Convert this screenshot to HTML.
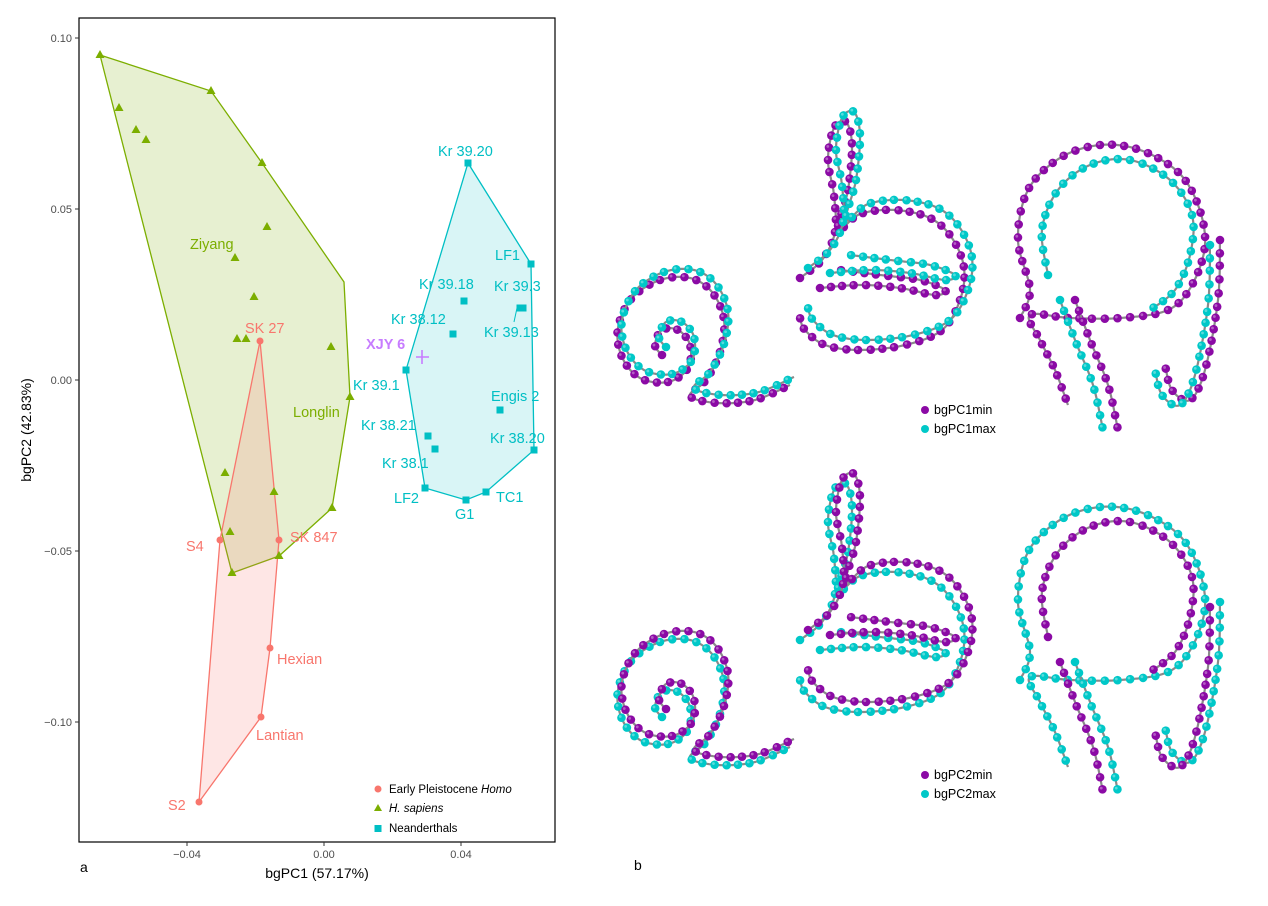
<!DOCTYPE html>
<html><head><meta charset="utf-8"><style>
body{margin:0;background:#fff;width:1268px;height:906px;overflow:hidden;font-family:"Liberation Sans",sans-serif}
svg{position:absolute;left:0;top:0}
</style></head><body>
<svg id="s" width="1268" height="906" xmlns="http://www.w3.org/2000/svg" font-family="Liberation Sans, sans-serif">
<rect x="79" y="18" width="476" height="824" fill="none" stroke="#000" stroke-width="1.2"/>
<!-- polygons -->
<polygon points="100,55 211,91 262,163 344,282 350,397 332,508 279,556 232,573" fill="#7CAE00" fill-opacity="0.18" stroke="#7CAE00" stroke-width="1.3"/>
<polygon points="260,341 279,540 270,648 261,717 199,802 220,540" fill="#F8766D" fill-opacity="0.18" stroke="#F8766D" stroke-width="1.3"/>
<polygon points="468,163 531,264 534,450 486,492 466,500 425,488 406,370" fill="#00BFC4" fill-opacity="0.15" stroke="#00BFC4" stroke-width="1.3"/>
<g id="pts"></g>
<g font-size="14.5">
<text x="190" y="249" fill="#7CAE00">Ziyang</text>
<text x="293" y="417" fill="#7CAE00">Longlin</text>
<text x="245" y="333" fill="#F8766D">SK 27</text>
<text x="186" y="551" fill="#F8766D">S4</text>
<text x="290" y="542" fill="#F8766D">SK 847</text>
<text x="277" y="664" fill="#F8766D">Hexian</text>
<text x="256" y="740" fill="#F8766D">Lantian</text>
<text x="168" y="810" fill="#F8766D">S2</text>
<text x="438" y="156" fill="#00BFC4">Kr 39.20</text>
<text x="495" y="260" fill="#00BFC4">LF1</text>
<text x="494" y="291" fill="#00BFC4">Kr 39.3</text>
<text x="419" y="289" fill="#00BFC4">Kr 39.18</text>
<text x="391" y="324" fill="#00BFC4">Kr 38.12</text>
<text x="484" y="337" fill="#00BFC4">Kr 39.13</text>
<text x="353" y="390" fill="#00BFC4">Kr 39.1</text>
<text x="491" y="401" fill="#00BFC4">Engis 2</text>
<text x="361" y="430" fill="#00BFC4">Kr 38.21</text>
<text x="490" y="443" fill="#00BFC4">Kr 38.20</text>
<text x="382" y="468" fill="#00BFC4">Kr 38.1</text>
<text x="394" y="503" fill="#00BFC4">LF2</text>
<text x="455" y="519" fill="#00BFC4">G1</text>
<text x="496" y="502" fill="#00BFC4">TC1</text>
<text x="366" y="349" fill="#C77CFF" font-weight="bold">XJY 6</text>
</g>
<path d="M416,357h13M422,350v14" stroke="#C77CFF" stroke-width="1.6"/>
<line x1="517" y1="308" x2="514" y2="322" stroke="#00BFC4"/>
<!-- axes ticks -->
<g stroke="#333"><line x1="187" y1="842" x2="187" y2="846"/><line x1="324" y1="842" x2="324" y2="846"/><line x1="461" y1="842" x2="461" y2="846"/>
<line x1="75" y1="38" x2="79" y2="38"/><line x1="75" y1="209" x2="79" y2="209"/><line x1="75" y1="380" x2="79" y2="380"/><line x1="75" y1="551" x2="79" y2="551"/><line x1="75" y1="722" x2="79" y2="722"/></g>
<g font-size="11" fill="#4d4d4d"><text x="187" y="858" text-anchor="middle">−0.04</text><text x="324" y="858" text-anchor="middle">0.00</text><text x="461" y="858" text-anchor="middle">0.04</text>
<text x="72" y="42" text-anchor="end">0.10</text><text x="72" y="213" text-anchor="end">0.05</text><text x="72" y="384" text-anchor="end">0.00</text><text x="72" y="555" text-anchor="end">−0.05</text><text x="72" y="726" text-anchor="end">−0.10</text></g>
<text x="317" y="878" font-size="14" text-anchor="middle">bgPC1 (57.17%)</text>
<text transform="translate(31,430) rotate(-90)" font-size="14" text-anchor="middle">bgPC2 (42.83%)</text>
<text x="80" y="872" font-size="14">a</text><text x="634" y="870" font-size="14">b</text>
<!-- legend -->
<g font-size="11.5"><circle cx="378" cy="789" r="3.5" fill="#F8766D"/><text x="389" y="793">Early Pleistocene <tspan font-style="italic">Homo</tspan></text>
<polygon points="378,804 382,811 374,811" fill="#7CAE00"/><text x="389" y="812" font-style="italic">H. sapiens</text>
<rect x="374.5" y="825" width="7" height="7" fill="#00BFC4"/><text x="389" y="832">Neanderthals</text></g>
<g font-size="12.5"><circle cx="925" cy="410" r="4" fill="#8B0AA5"/><text x="934" y="414">bgPC1min</text><circle cx="925" cy="429" r="4" fill="#00C8C8"/><text x="934" y="433">bgPC1max</text>
<circle cx="925" cy="775" r="4" fill="#8B0AA5"/><text x="934" y="779">bgPC2min</text><circle cx="925" cy="794" r="4" fill="#00C8C8"/><text x="934" y="798">bgPC2max</text></g>
<g id="chains"></g>
</svg>
<script>
var NS="http://www.w3.org/2000/svg";
function el(t,a,p){var e=document.createElementNS(NS,t);for(var k in a)e.setAttribute(k,a[k]);p.appendChild(e);return e;}
var P=document.getElementById("pts");
[[100,55],[119,108],[136,130],[146,140],[211,91],[262,163],[267,227],[235,258],[254,297],[237,339],[246,339],[331,347],[350,397],[274,492],[225,473],[230,532],[279,556],[232,573],[332,508]].forEach(function(p){el("polygon",{points:p[0]+","+(p[1]-5)+" "+(p[0]+4.5)+","+(p[1]+3)+" "+(p[0]-4.5)+","+(p[1]+3),fill:"#7CAE00"},P);});
[[260,341],[220,540],[279,540],[270,648],[261,717],[199,802]].forEach(function(p){el("circle",{cx:p[0],cy:p[1],r:3.5,fill:"#F8766D"},P);});
[[468,163],[531,264],[464,301],[453,334],[520,308],[523,308],[406,370],[500,410],[428,436],[435,449],[534,450],[486,492],[466,500],[425,488]].forEach(function(p){el("rect",{x:p[0]-3.5,y:p[1]-3.5,width:7,height:7,fill:"#00BFC4"},P);});
var C=document.getElementById("chains");
function cr(pts,n){var o=[];for(var i=0;i<pts.length-1;i++){var p0=pts[Math.max(0,i-1)],p1=pts[i],p2=pts[i+1],p3=pts[Math.min(pts.length-1,i+2)];for(var t=0;t<1;t+=1/n){var t2=t*t,t3=t2*t;o.push([0.5*(2*p1[0]+(-p0[0]+p2[0])*t+(2*p0[0]-5*p1[0]+4*p2[0]-p3[0])*t2+(-p0[0]+3*p1[0]-3*p2[0]+p3[0])*t3),0.5*(2*p1[1]+(-p0[1]+p2[1])*t+(2*p0[1]-5*p1[1]+4*p2[1]-p3[1])*t2+(-p0[1]+3*p1[1]-3*p2[1]+p3[1])*t3)]);}}o.push(pts[pts.length-1]);return o;}
function chain(pts,col,dx,dy,sx,sy){pts=pts.map(function(p){return[p[0]*(sx||1)+dx,p[1]*(sy||1)+dy];});var d=cr(pts,20);var s="M"+d.map(function(p){return p[0].toFixed(1)+","+p[1].toFixed(1)}).join("L");el("path",{d:s,fill:"none",stroke:"#8a8a8a","stroke-width":2.2},C);var acc=0,last=d[0];el("circle",{cx:last[0],cy:last[1],r:4.3,fill:col},C);for(var i=1;i<d.length;i++){acc+=Math.hypot(d[i][0]-d[i-1][0],d[i][1]-d[i-1][1]);if(acc>=11){acc=0;el("circle",{cx:d[i][0],cy:d[i][1],r:4.3,fill:col},C);el("circle",{cx:d[i][0]-1.2,cy:d[i][1]-1.2,r:1.4,fill:"#fff","fill-opacity":0.35},C);}}}
var E=[[662,355],[655,345],[662,330],[678,330],[690,345],[688,368],[668,382],[640,378],[622,357],[618,328],[632,298],[660,280],[690,278],[712,292],[724,320],[720,352],[706,380],[690,396],[718,403],[755,400],[790,385]];
var B1=[[800,278],[822,260],[835,232],[834,195],[828,160],[834,128],[846,122],[852,145],[848,190],[838,230],[860,214],[895,210],[930,218],[952,238],[964,268],[960,300],[942,330],[905,345],[860,350],[825,345],[805,330],[800,318]];
var B2=[[820,288],[860,285],[900,288],[935,295],[945,290],[920,280],[880,275],[840,270]];
var Q1=[[1020,318],[1030,290],[1018,240],[1028,190],[1060,158],[1100,145],[1140,150],[1178,172],[1198,205],[1205,245],[1192,285],[1168,310],[1120,318],[1070,318],[1030,315],[1040,340],[1055,370],[1068,405]];
var Q2=[[1075,300],[1090,340],[1108,385],[1118,430]];
var Q3=[[1220,240],[1218,300],[1205,370],[1190,400],[1172,390],[1165,365]];
var Q4=[[1048,275],[1042,230],[1058,190],[1090,165],[1130,160],[1170,180],[1192,215],[1190,255],[1175,290],[1150,310]];
function draw(oy,flip){var a=flip?"#00C8C8":"#8B0AA5",b=flip?"#8B0AA5":"#00C8C8";
chain(E,a,0,oy);chain(E,b,4,oy-8,1,1);chain(B1,a,0,oy);chain(B1,b,8,oy-10);chain(B2,a,0,oy);chain(B2,b,10,oy-15);
chain(Q1,a,0,oy);chain(Q4,b,0,oy);chain(Q2,a,0,oy);chain(Q2,b,-15,oy);chain(Q3,a,0,oy);chain(Q3,b,-10,oy+5);}
draw(0,false);draw(362,true);
</script>
</body></html>
